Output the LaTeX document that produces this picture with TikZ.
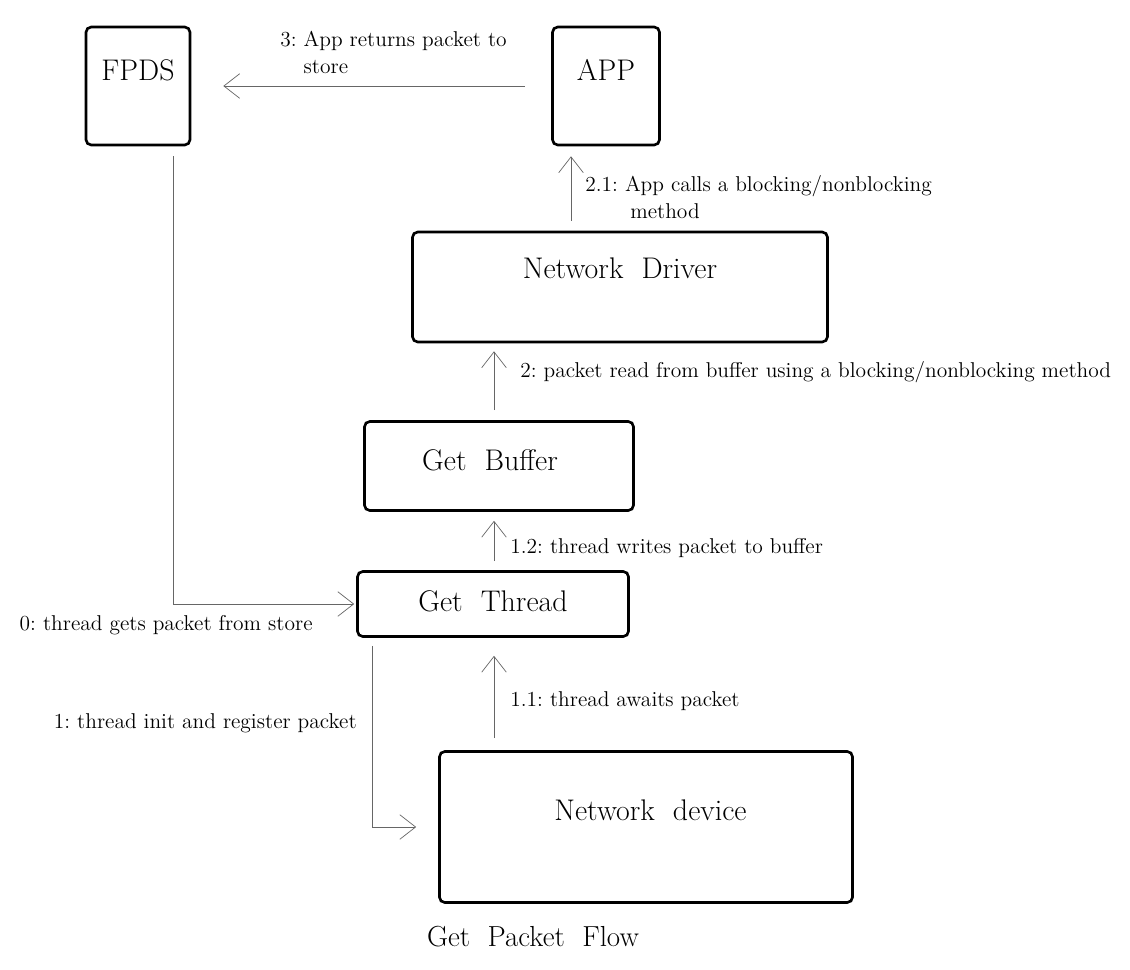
\documentclass[tikz,border=0pt]{standalone}
\usepackage{tikz}
\usetikzlibrary{calc, positioning, arrows.meta}

\begin{document}
\begin{tikzpicture}[x=0.02cm, y=-0.02cm,
      boxnode/.style={rectangle, rounded corners=3pt, draw=black, line width=1.5pt, font=\fontsize{17}{20}\selectfont, inner sep=0pt, text height=11.6pt, text depth=#1},
      boxnode/.default=0pt,
      flow/.style={draw=black!60, thin, -{Straight Barb[length=9pt, width=14pt]}},
      flowlabel/.style={font=\fontsize{12.2}{15.5}\selectfont, inner sep=0pt, align=left},
      ]
      \useasboundingbox (0,0) rectangle (1130,970);
      %Nodes
      \node[boxnode=18pt, minimum width=104*0.02cm, minimum height=118*0.02cm] (fpds) at (138,86) {FPDS};
      \node[boxnode=18pt, minimum width=107*0.02cm, minimum height=118*0.02cm] (app) at (606,86) {APP};
      \node[boxnode=21.5pt, minimum width=415*0.02cm, minimum height=110*0.02cm] (driver) at (620,287) {Network\ \ Driver};
      \node[boxnode=6.8pt, minimum width=269*0.02cm, minimum height=89*0.02cm] (buffer) at (499,466) {Get\ \ Buffer\kern0.6em};
      \node[boxnode=3.4pt, minimum width=271*0.02cm, minimum height=65*0.02cm] (thread) at (493,604) {Get\ \ Thread};
      \node[boxnode=19.3pt, minimum width=413*0.02cm, minimum height=151*0.02cm] (device) at (646,827) {\kern0.3em Network\ \ device};
      \node[font=\fontsize{16.5}{19}\selectfont] (title) at (533,937) {Get\ \ Packet\ \ Flow};

      %Lines
      \draw[flow, shorten <=26*0.02cm, shorten >=32*0.02cm] (app.west) -- (fpds.east);
      \draw[flow, shorten <=10*0.02cm, shorten >=10*0.02cm] (driver.north -| 571,0) -- (app.south -| 571,0);
      \draw[flow, shorten <=10*0.02cm, shorten >=8*0.02cm] (buffer.north -| 494,0) -- (driver.south -| 494,0);
      \draw[flow, shorten <=9*0.02cm, shorten >=9*0.02cm] (thread.north -| 494,0) -- (buffer.south -| 494,0);
      \draw[flow, shorten <=12*0.02cm, shorten >=18*0.02cm] (device.north -| 494,0) -- (thread.south -| 494,0);
      \draw[flow, shorten <=10*0.02cm, shorten >=2*0.02cm] (fpds.south -| 173,0) |- (thread.west);
      \draw[flow, shorten <=8*0.02cm, shorten >=22*0.02cm] (thread.south -| 372,0) |- (device.west);

      %Labels
      \node[flowlabel, anchor=north west] (l3) at (280,31) {3:\ App\ returns\ packet\ to\\\phantom{3:\ }store};
      \node[flowlabel, anchor=north west] (l21) at (585,175) {2.1:\ App\ calls\ a\ blocking/nonblocking\\\phantom{2.1:\ }\kern3pt method};
      \node[flowlabel, anchor=west] (l2) at (520,372) {2:\ packet\ read\ from\ buffer\ using\ a\ blocking/nonblocking\ method};
      \node[flowlabel, anchor=west] (l12) at (510,548) {1.2:\ thread\ writes\ packet\ to\ buffer};
      \node[flowlabel, anchor=east] (l0) at (313,625) {0:\ thread\ gets\ packet\ from\ store};
      \node[flowlabel, anchor=east] (l1) at (357,723) {1:\ thread\ init\ and\ register\ packet};
      \node[flowlabel, anchor=west] (l11) at (510,701) {1.1:\ thread\ awaits\ packet};
    \end{tikzpicture}
\end{document}
